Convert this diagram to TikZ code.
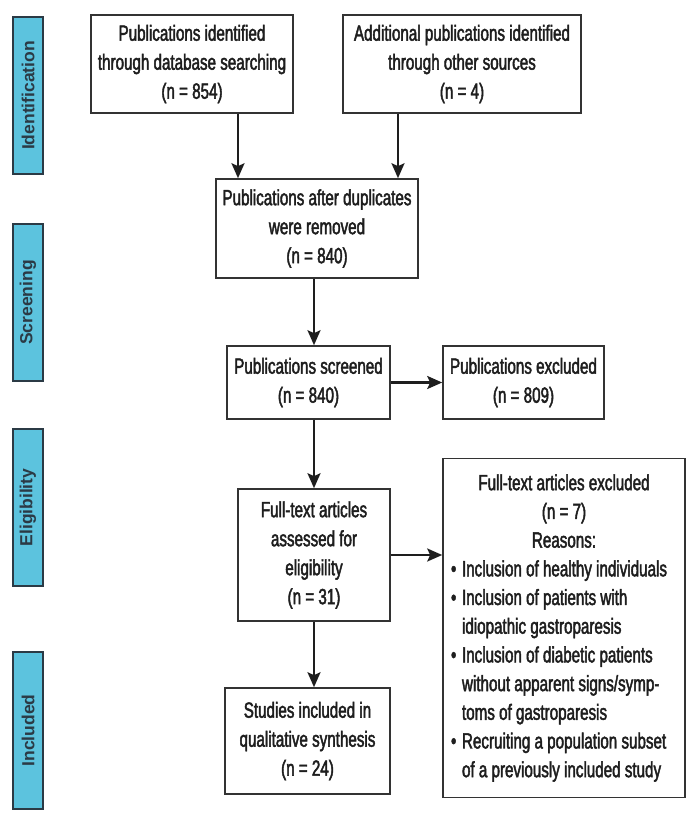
\documentclass[tikz,border=0pt]{standalone}
\usepackage{fontspec}
\setmainfont{Liberation Sans}
\newfontfamily\condfont{Liberation Sans}[FakeStretch=0.69,FakeBold=2]
\usetikzlibrary{arrows.meta}
\definecolor{barblue}{HTML}{5CC3DE}
\definecolor{barline}{HTML}{2B3A45}
\definecolor{boxline}{HTML}{333333}
\definecolor{inkcol}{HTML}{1E1E1E}
\newcommand{\bulletitem}{\par\hangindent=11pt\hangafter=1\noindent\makebox[11pt][l]{•}}
\tikzset{
  flowbox/.style={draw=boxline, line width=1.6pt, fill=white, align=center,
    inner sep=2pt, text=inkcol, font=\condfont\fontsize{22}{29}\selectfont},
  phasebar/.style={draw=barline, line width=1.6pt, fill=barblue, rotate=90,
    minimum width=157pt, minimum height=30pt, inner sep=0pt,
    font=\bfseries\fontsize{17.5}{20}\selectfont, text=barline},
  arr/.style={draw=inkcol, line width=2.4pt,
    -{Stealth[length=15pt,width=13pt,inset=3pt]}}
}
\begin{document}
\begin{tikzpicture}[x=1pt,y=-1pt]
\useasboundingbox (0,0) rectangle (699,825);
% phase bars
\node[phasebar] (pid) at (28,95.5) {Identification};
\node[phasebar] (psc) at (28,302.5) {Screening};
\node[phasebar] (pel) at (28,507.5) {Eligibility};
\node[phasebar] (pin) at (28,730.5) {Included};
% boxes
\node[flowbox, minimum width=202pt, minimum height=98pt] (b1) at (192,64)
  {Publications identified\\through database searching\\(n = 854)};
\node[flowbox, minimum width=238pt, minimum height=98pt] (b2) at (462,64)
  {Additional publications identified\\through other sources\\(n = 4)};
\node[flowbox, minimum width=202pt, minimum height=99pt] (b3) at (317,228.5)
  {Publications after duplicates\\were removed\\(n = 840)};
\node[flowbox, minimum width=163pt, minimum height=73pt] (b4) at (308.5,382.5)
  {Publications screened\\(n = 840)};
\node[flowbox, minimum width=161pt, minimum height=73pt] (b5) at (523.5,382.5)
  {Publications excluded\\(n = 809)};
\node[flowbox, minimum width=152pt, minimum height=132pt] (b6) at (314,555)
  {Full-text articles\\assessed for\\eligibility\\(n = 31)};
\node[flowbox, minimum width=242pt, minimum height=339pt] (b7) at (564,628)
  {\parbox{226pt}{\baselineskip=28.7pt\centering Full-text articles excluded\\(n = 7)\\Reasons:\par
   \raggedright
   \bulletitem Inclusion of healthy individuals
   \bulletitem Inclusion of patients with\newline idiopathic gastroparesis
   \bulletitem Inclusion of diabetic patients\newline without apparent signs/symp-\newline toms of gastroparesis
   \bulletitem Recruiting a population subset\newline of a previously included study\par}};
\node[flowbox, minimum width=165pt, minimum height=106pt] (b8) at (307.5,741)
  {Studies included in\\qualitative synthesis\\(n = 24)};
% connectors
\coordinate (xa) at (238,0);
\coordinate (xb) at (398,0);
\coordinate (xc) at (314,0);
\draw[arr] (b1.south -| xa) -- (b3.north -| xa);
\draw[arr] (b2.south -| xb) -- (b3.north -| xb);
\draw[arr] (b3.south -| xc) -- (b4.north -| xc);
\draw[arr] (b4.east) -- (b5.west);
\draw[arr] (b4.south -| b6) -- (b6.north);
\draw[arr] (b6.east) -- (b7.west |- b6.east);
\draw[arr] (b6.south) -- (b8.north -| b6);
\end{tikzpicture}
\end{document}
